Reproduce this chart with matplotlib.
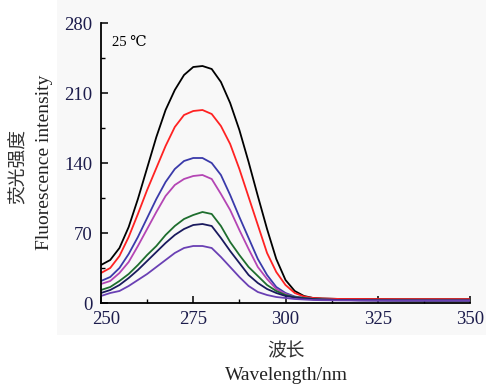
import matplotlib
matplotlib.use("Agg")
import matplotlib.pyplot as plt
import matplotlib.transforms as mtransforms
from matplotlib.patches import Rectangle
from matplotlib.ticker import MultipleLocator

# wavelength grid (nm) and the seven emission spectra
wavelength = [250, 252.5, 255, 257.5, 260, 262.5, 265, 267.5, 270, 272.5, 275, 277.5,
              280, 282.5, 285, 287.5, 290, 292.5, 295, 297.5, 300, 302.5, 305, 307.5,
              310, 315, 320, 330, 340, 350]

black = [38, 43, 55, 76, 104, 135, 166, 193, 213, 228, 236, 237,
         234, 221, 200, 173, 141, 107, 74, 44, 23, 12, 7, 5,
         4.5, 4, 4, 3.8, 3.8, 3.8]
red = [30, 35, 47, 66, 89, 113, 135, 157, 176, 188, 192, 193,
       189, 177, 159, 134, 106, 78, 50, 31, 18, 10, 6.5, 5,
       4.5, 4, 4, 3.8, 3.8, 3.8]
blue = [22, 26, 35, 49, 66, 85, 104, 121, 134, 142, 145, 145,
        140, 128, 108, 86, 65, 44, 28, 16, 10, 6.5, 5, 4,
        3.5, 3, 2.8, 2.6, 2.5, 2.5]
magenta = [19, 22, 30, 41, 57, 74, 91, 107, 118, 124, 127, 128,
           124, 109, 93, 73, 54, 36, 24, 14, 9, 6, 5, 4,
           3.5, 3, 2.8, 2.6, 2.5, 2.5]
green = [13, 16, 22, 29, 38, 48, 57, 68, 77, 84, 88, 91,
         89, 77, 61, 48, 36, 27, 18, 12, 8, 6, 5, 4,
         3.5, 3, 2.8, 2.6, 2.5, 2.5]
navy = [10, 13, 18, 25, 33, 42, 51, 60, 68, 74, 78, 79,
        77, 65, 52, 40, 28, 20, 14, 10, 7, 5.5, 4.5, 3.8,
        3.3, 3, 2.8, 2.6, 2.5, 2.5]
purple = [7, 10, 12, 17, 23, 29, 36, 43, 50, 55, 57, 57,
          55, 46, 36, 26, 17, 11, 8, 6, 5, 4, 3.5, 3,
          2.8, 2.6, 2.5, 2.4, 2.4, 2.4]

series = [black, red, blue, magenta, green, navy, purple]
colors = ["#000000", "#ff2222", "#3a3aaa", "#b445b4", "#1e6e2e", "#1a1a5e", "#6a40b4"]

xticks = [250, 275, 300, 325, 350]
yticks = [0, 70, 140, 210, 280]

W, H = 486, 385
fig = plt.figure(figsize=(W / 100, H / 100), dpi=100, facecolor="white")

# faint grey panel behind the plot
fig.patches.append(Rectangle((57 / W, 1 - 335 / H), 1 - 57 / W, 335 / H,
                             transform=fig.transFigure, facecolor="#f8f8f8",
                             edgecolor="none", zorder=-10))

ax = fig.add_axes([101 / W, 1 - 303 / H, (470 - 101) / W, (303 - 23) / H])
ax.set_facecolor("none")

for s, c in zip(series, colors):
    ax.plot(wavelength, s, color=c, lw=1.3, solid_joinstyle="round")

ax.set_xlim(250, 350)
ax.set_ylim(0, 280)
ax.set_xticks(xticks)
ax.set_yticks(yticks)
ax.xaxis.set_minor_locator(MultipleLocator(12.5))
ax.yaxis.set_minor_locator(MultipleLocator(35))
ax.spines["top"].set_visible(False)
ax.spines["right"].set_visible(False)
for sp in ["left", "bottom"]:
    ax.spines[sp].set_linewidth(1.3)

serif = ["Liberation Serif", "DejaVu Serif"]
navy_txt = "#1c1c4c"
ax.tick_params(which="major", direction="in", length=5, width=1.1, pad=6,
               labelsize=13.5, labelcolor=navy_txt)
ax.tick_params(which="minor", direction="in", length=3, width=1.0)
for lab in ax.get_xticklabels() + ax.get_yticklabels():
    lab.set_family(serif)

# the "250" label sits a little to the right of its tick in the original
first = ax.get_xticklabels()[0]
first.set_transform(first.get_transform() +
                    mtransforms.ScaledTranslation(5 / 100, 0, fig.dpi_scale_trans))

ax.text(253, 261, "25 \u2103", fontsize=10.5, family=serif, ha="left", va="center")

# axis titles (Chinese + English)
cjk = ["Noto Sans CJK SC", "DejaVu Sans"]
fig.text(18 / W, 1 - 167 / H, "荧光强度", rotation=90, fontsize=13.5, family=cjk,
         color="#333333", ha="center", va="center")
fig.text(45 / W, 1 - 162 / H, "Fluorescence intensity", rotation=90, fontsize=14,
         family=serif, color="#222222", ha="center", va="center")
fig.text(286 / W, 1 - 351 / H, "波长", fontsize=13.5, family=cjk,
         color="#333333", ha="center", va="center")
fig.text(286 / W, 1 - 375 / H, "Wavelength/nm", fontsize=14, family=serif,
         color="#222222", ha="center", va="center")

plt.savefig("out.png", dpi=100, facecolor="white")
